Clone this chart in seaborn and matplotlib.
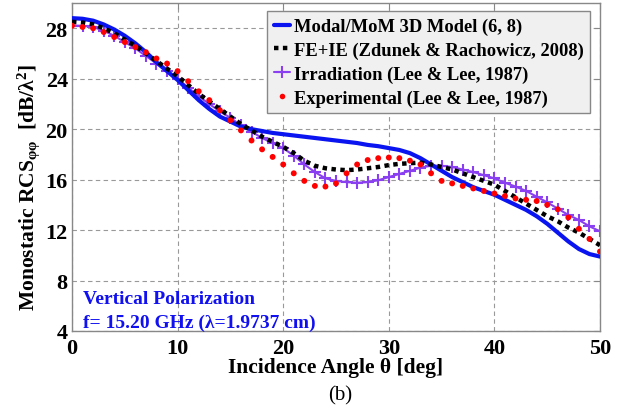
import matplotlib
matplotlib.use("Agg")
import matplotlib.pyplot as plt
import seaborn as sns
import numpy as np
import pandas as pd
from matplotlib.lines import Line2D

angle = list(range(0, 51))

modal_mom = [28.8, 28.75, 28.6, 28.3, 27.9, 27.4, 26.8, 26.1, 25.3, 24.6,
             23.9, 23.1, 22.3, 21.6, 21.0, 20.6, 20.2, 20.0, 19.85, 19.7,
             19.6, 19.5, 19.4, 19.3, 19.2, 19.1, 19.0, 18.9, 18.75, 18.65,
             18.5, 18.35, 18.1, 17.7, 17.2, 16.7, 16.2, 15.8, 15.4, 15.1,
             14.8, 14.4, 14.0, 13.6, 13.1, 12.5, 11.8, 11.1, 10.5, 10.1, 9.9]

fe_ie = [28.5, 28.45, 28.3, 28.0, 27.6, 27.1, 26.6, 26.0, 25.4, 24.8,
         24.2, 23.5, 22.8, 22.2, 21.6, 21.0, 20.4, 19.9, 19.4, 19.0,
         18.6, 18.1, 17.5, 17.1, 16.9, 16.8, 16.75, 16.8, 16.9, 17.0,
         17.15, 17.25, 17.3, 17.35, 17.2, 17.0, 16.8, 16.5, 16.2, 15.9,
         15.6, 15.1, 14.6, 14.1, 13.6, 13.1, 12.7, 12.2, 11.8, 11.3, 10.8]

irradiation = [28.2, 28.2, 28.1, 27.8, 27.4, 26.9, 26.4, 25.8, 25.2, 24.6,
               24.0, 23.3, 22.6, 22.0, 21.4, 20.9, 20.3, 19.8, 19.3, 18.9,
               18.5, 17.9, 17.2, 16.6, 16.1, 15.9, 15.8, 15.75, 15.8, 15.95,
               16.2, 16.45, 16.7, 16.95, 17.1, 17.1, 17.0, 16.8, 16.6, 16.35,
               16.1, 15.75, 15.45, 15.1, 14.65, 14.2, 13.7, 13.2, 12.8, 12.3, 11.9]

experimental = [28.2, 28.1, 28.0, 27.7, 27.3, 26.9, 26.5, 26.1, 25.6, 25.2,
                24.6, 23.8, 23.0, 22.3, 21.5, 20.7, 19.9, 19.1, 18.4, 17.8,
                17.2, 16.5, 15.9, 15.5, 15.45, 15.7, 16.5, 17.2, 17.55, 17.7,
                17.75, 17.7, 17.5, 17.2, 16.5, 15.9, 15.7, 15.5, 15.3, 15.1,
                14.9, 14.7, 14.5, 14.4, 14.3, 14.0, 13.65, 13.0, 12.1, 11.3, 10.3]

labels = ["Modal/MoM 3D Model (6, 8)",
          "FE+IE (Zdunek & Rachowicz, 2008)",
          "Irradiation (Lee & Lee, 1987)",
          "Experimental (Lee & Lee, 1987)"]

xticks = [0, 10, 20, 30, 40, 50]
yticks = [4, 8, 12, 16, 20, 24, 28]

sns.set_style("white")
plt.rcParams['font.family'] = ['Liberation Serif', 'DejaVu Serif']
plt.rcParams['text.color'] = 'black'
plt.rcParams['axes.labelcolor'] = 'black'
plt.rcParams['xtick.color'] = 'black'
plt.rcParams['ytick.color'] = 'black'
plt.rcParams['mathtext.fontset'] = 'custom'
plt.rcParams['mathtext.rm'] = 'Liberation Serif:bold'
plt.rcParams['mathtext.it'] = 'Liberation Serif:bold'
plt.rcParams['mathtext.bf'] = 'Liberation Serif:bold'

df = pd.DataFrame({"angle": angle, "modal": modal_mom, "feie": fe_ie,
                   "irr": irradiation, "exp": experimental})

fig = plt.figure(figsize=(6.19, 4.10), dpi=100)
ax = fig.add_axes([72/619, 78/410, 528/619, 328/410])

blue = '#0a14f0'
purple = '#8a3ff0'
sns.lineplot(data=df, x="angle", y="modal", ax=ax, color=blue, lw=3.0, zorder=3)
sns.lineplot(data=df, x="angle", y="feie", ax=ax, color='black', lw=3.2,
             linestyle=(0, (1, 1)), zorder=4)
sns.lineplot(data=df, x="angle", y="irr", ax=ax, color=purple, lw=1.5,
             marker='+', markersize=9, markeredgewidth=1.5,
             markeredgecolor=purple, markerfacecolor=purple, zorder=2)
sns.scatterplot(data=df, x="angle", y="exp", ax=ax, color='red', s=18,
                edgecolor='none', zorder=5)

ax.set_xlim(0, 50)
ax.set_ylim(4, 30)
ax.set_xticks(xticks)
ax.set_yticks(yticks)
ax.set_xticklabels([str(t) for t in xticks], fontsize=16, fontweight='bold')
ax.set_yticklabels([str(t) for t in yticks], fontsize=16, fontweight='bold')
ax.tick_params(axis='both', direction='in', length=4, color='#888888',
               top=True, right=True)
ax.tick_params(axis='y', pad=3)
ax.tick_params(axis='x', pad=5)
ax.grid(True, linestyle=(0, (4, 3)), color='#999999', lw=0.8)
for s in ax.spines.values():
    s.set_color('#888888')
    s.set_linewidth(1.0)

ax.set_xlabel("Incidence Angle θ [deg]", fontsize=15.5, fontweight='bold', labelpad=-1)
ax.set_ylabel("Monostatic RCS$_{φφ}$  [dB/λ$^2$]", fontsize=15.5, fontweight='bold')
ax.yaxis.set_label_coords(-0.057, 0.442)

ax.text(0.02, 0.10, "Vertical Polarization", transform=ax.transAxes,
        color='#1010f0', fontsize=14, fontweight='bold', va='center')
ax.text(0.02, 0.027, "f= 15.20 GHz (λ=1.9737 cm)", transform=ax.transAxes,
        color='#1010f0', fontsize=14, fontweight='bold', va='center')

handles = [
    Line2D([], [], color=blue, lw=3.0),
    Line2D([], [], color='black', lw=3.2, linestyle=(0, (1, 1))),
    Line2D([], [], color=purple, lw=1.5, marker='+', markersize=9, markeredgewidth=1.5),
    Line2D([], [], color='red', marker='o', linestyle='none', markersize=4, markeredgewidth=0),
]
leg = ax.legend(handles, labels, loc='upper right', bbox_to_anchor=(0.985, 0.98),
                prop={'family': 'Liberation Serif', 'weight': 'bold', 'size': 13.3},
                frameon=True, fancybox=False, handlelength=0.9, handletextpad=0.2,
                labelspacing=0.35, borderpad=0.35, borderaxespad=0.1)
leg.get_frame().set_facecolor('#f0f0f0')
leg.get_frame().set_edgecolor('#888888')
leg.get_frame().set_alpha(1.0)

fig.text(340/619, 1 - 396/410, "(b)", fontsize=15, ha='center', va='center')

fig.savefig("out.png", dpi=100)
